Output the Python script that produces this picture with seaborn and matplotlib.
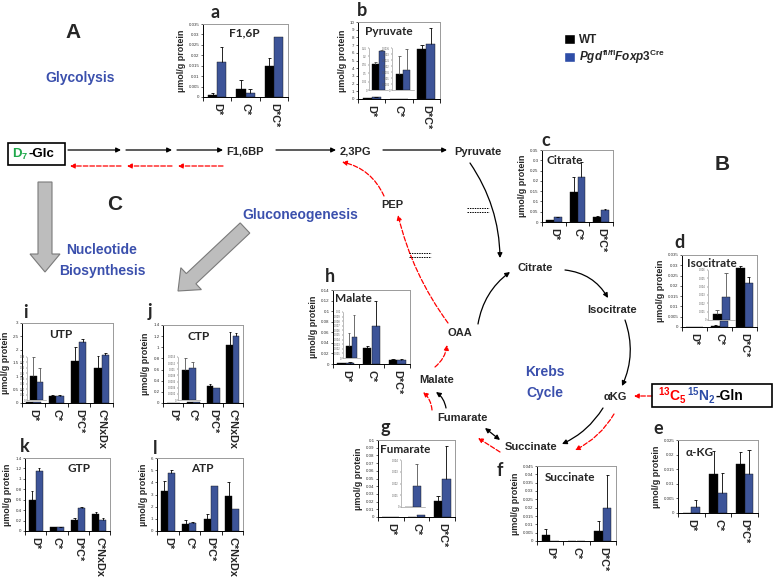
import numpy as np
import pandas as pd
import seaborn as sns
import matplotlib.pyplot as plt
from matplotlib.patches import FancyArrowPatch, FancyArrow, Rectangle, Patch
from matplotlib.ticker import FuncFormatter

W, H = 779, 581
BLUE = '#2E4DA7'
TXTBLUE = '#3B50AD'

groups3 = ['D*', 'C*', 'D*C*']
groups4 = ['D*', 'C*', 'D*C*', 'C*NxDx']

# a  F1,6P
f16p_wt = [0.001, 0.004, 0.015]
f16p_wt_err = [0.001, 0.004, 0.0035]
f16p_ko = [0.017, 0.002, 0.029]
f16p_ko_err = [0.007, 0.002, 0.0]

# b  Pyruvate (+ two insets)
pyr_wt = [0.15, 0.001, 6.5]
pyr_wt_err = [0.02, 0.001, 0.5]
pyr_ko = [0.2, 0.0015, 7.2]
pyr_ko_err = [0.03, 0.002, 2.0]
pyr_in1_wt, pyr_in1_wt_err, pyr_in1_ko, pyr_in1_ko_err = [0.155], [0.012], [0.23], [0.01]
pyr_in2_wt, pyr_in2_wt_err, pyr_in2_ko, pyr_in2_ko_err = [0.0013], [0.0015], [0.0017], [0.0017]

# c  Citrate
cit_wt = [0.008, 0.145, 0.024]
cit_wt_err = [0.003, 0.075, 0.006]
cit_ko = [0.022, 0.217, 0.06]
cit_ko_err = [0.003, 0.073, 0.004]

# d  Isocitrate (+ inset)
iso_wt = [0.0002, 0.0006, 0.0285]
iso_wt_err = [0.0, 0.0004, 0.0013]
iso_ko = [0.0001, 0.0027, 0.0213]
iso_ko_err = [0.0, 0.0, 0.0029]
iso_in_wt, iso_in_wt_err, iso_in_ko, iso_in_ko_err = [0.0007], [0.0005], [0.0028], [0.0028]

# e  alpha-KG
akg_wt = [0.0, 0.0133, 0.0167]
akg_wt_err = [0.0, 0.0078, 0.0043]
akg_ko = [0.002, 0.0068, 0.0133]
akg_ko_err = [0.0024, 0.007, 0.0083]

# f  Succinate
suc_wt = [0.0035, 0.0, 0.0063]
suc_wt_err = [0.004, 0.0, 0.006]
suc_ko = [0.0, 0.0, 0.02]
suc_ko_err = [0.0, 0.0, 0.0195]

# g  Fumarate (+ inset)
fum_wt = [0.0, 0.0, 0.021]
fum_wt_err = [0.0, 0.0, 0.006]
fum_ko = [0.0, 0.002, 0.049]
fum_ko_err = [0.0, 0.0, 0.043]
fum_in_wt, fum_in_wt_err, fum_in_ko, fum_in_ko_err = [0.0], [0.0], [0.0018], [0.0019]

# h  Malate (+ inset)
mal_wt = [0.001, 0.031, 0.008]
mal_wt_err = [0.0005, 0.004, 0.002]
mal_ko = [0.002, 0.072, 0.007]
mal_ko_err = [0.001, 0.047, 0.002]
mal_in_wt, mal_in_wt_err, mal_in_ko, mal_in_ko_err = [0.0027], [0.0027], [0.0046], [0.0047]

# i  UTP (+ inset)
utp_wt = [0.03, 0.25, 1.58, 1.3]
utp_wt_err = [0.0, 0.05, 0.52, 0.45]
utp_ko = [0.03, 0.28, 2.27, 1.79]
utp_ko_err = [0.0, 0.02, 0.12, 0.09]
utp_in_wt, utp_in_wt_err, utp_in_ko, utp_in_ko_err = [0.045], [0.035], [0.033], [0.026]

# j  CTP (+ inset)
ctp_wt = [0.005, 0.01, 0.3, 1.05]
ctp_wt_err = [0.0, 0.0, 0.04, 0.22]
ctp_ko = [0.005, 0.01, 0.27, 1.21]
ctp_ko_err = [0.0, 0.0, 0.0, 0.05]
ctp_in_wt, ctp_in_wt_err, ctp_in_ko, ctp_in_ko_err = [0.00098], [0.0004], [0.00104], [0.0002]

# k  GTP
gtp_wt = [0.6, 0.07, 0.22, 0.33]
gtp_wt_err = [0.17, 0.01, 0.02, 0.03]
gtp_ko = [1.15, 0.08, 0.45, 0.21]
gtp_ko_err = [0.05, 0.005, 0.01, 0.03]

# l  ATP
atp_wt = [3.25, 0.6, 1.0, 2.9]
atp_wt_err = [0.85, 0.3, 0.4, 1.1]
atp_ko = [4.75, 0.65, 3.7, 1.8]
atp_ko_err = [0.25, 0.05, 0.0, 0.0]

sns.set_theme(style='ticks')
plt.rcParams['font.family'] = ['Liberation Sans', 'DejaVu Sans']
plt.rcParams['mathtext.fontset'] = 'custom'
plt.rcParams['mathtext.rm'] = 'Liberation Sans:bold'
plt.rcParams['mathtext.it'] = 'Liberation Sans:bold:italic'
plt.rcParams['mathtext.bf'] = 'Liberation Sans:bold'

fig = plt.figure(figsize=(W / 100, H / 100), dpi=100)
bg = fig.add_axes([0, 0, 1, 1])
bg.set_xlim(0, W)
bg.set_ylim(H, 0)
bg.axis('off')


def rect(x0, y0, x1, y1):
    return [x0 / W, 1 - y1 / H, (x1 - x0) / W, (y1 - y0) / H]


def fmt(v, pos):
    return '{:g}'.format(round(v, 6))


def draw_bars(ax, cats, wt, ko, wt_err, ko_err, ecol='black'):
    df = pd.DataFrame({'grp': cats * 2,
                       'geno': ['WT'] * len(cats) + ['KO'] * len(cats),
                       'val': wt + ko})
    sns.barplot(data=df, x='grp', y='val', hue='geno', hue_order=['WT', 'KO'],
                palette={'WT': 'black', 'KO': BLUE}, errorbar=None, width=0.65,
                edgecolor='#111111', linewidth=0.3, legend=False, ax=ax)
    for cont, err in zip(ax.containers, [wt_err, ko_err]):
        for p, e in zip(cont, err):
            if e <= 0:
                continue
            xc = p.get_x() + p.get_width() / 2
            top = p.get_height()
            ax.vlines(xc, top, top + e, color=ecol, lw=0.6)
            ax.hlines(top + e, xc - 0.06, xc + 0.06, color=ecol, lw=0.6)


def panel(box, cats, wt, ko, wt_err, ko_err, ymax, step, title, tx, ty=0.88):
    ax = fig.add_axes(rect(*box))
    draw_bars(ax, cats, wt, ko, wt_err, ko_err)
    n = len(cats)
    ax.set_xlim(-0.5, n - 0.5)
    ax.set_ylim(0, ymax)
    ax.set_yticks(np.arange(0, ymax + step / 2, step))
    ax.yaxis.set_major_formatter(FuncFormatter(fmt))
    ax.tick_params(axis='y', labelsize=3.2, length=1.5, width=0.5, pad=1, labelcolor='#333333')
    ax.set_xticks(range(n))
    ax.set_xticklabels(cats, rotation=270, fontsize=7.8, fontweight='bold')
    ax.set_xticks(np.arange(n + 1) - 0.5, minor=True)
    ax.tick_params(axis='x', which='major', length=0, pad=4)
    ax.tick_params(axis='x', which='minor', length=3, width=0.6, color='black')
    ax.set_xlabel('')
    ax.set_ylabel('µmol/g protein', fontsize=6.5, fontweight='bold', labelpad=2)
    for s in ['left', 'bottom']:
        ax.spines[s].set_color('black')
        ax.spines[s].set_linewidth(0.7)
    for s in ['top', 'right']:
        ax.spines[s].set_visible(True)
        ax.spines[s].set_color('#9a9a9a')
        ax.spines[s].set_linewidth(0.7)
    ax.text(tx, ty, title, transform=ax.transAxes, ha='left', va='center',
            fontsize=8.5, fontweight='bold', family=['Lato', 'DejaVu Sans'])
    return ax


def inset(box, cats, wt, ko, wt_err, ko_err, ymax, step):
    ax = fig.add_axes(rect(*box))
    ax.patch.set_alpha(0)
    draw_bars(ax, cats, wt, ko, wt_err, ko_err, ecol='#555555')
    ax.set_xlim(-0.5, len(cats) - 0.5)
    ax.set_ylim(0, ymax)
    ax.set_yticks(np.arange(0, ymax + step / 2, step))
    ax.yaxis.set_major_formatter(FuncFormatter(fmt))
    ax.tick_params(axis='y', labelsize=1.8, length=1, width=0.3, pad=0.5, labelcolor='#555555')
    ax.set_xticks([])
    ax.set_xlabel('')
    ax.set_ylabel('')
    sns.despine(ax=ax)
    for s in ['left', 'bottom']:
        ax.spines[s].set_color('#888888')
        ax.spines[s].set_linewidth(0.4)
    return ax


# ---- bar panels ----
panel((203, 24, 288, 97), groups3, f16p_wt, f16p_ko, f16p_wt_err, f16p_ko_err, 0.035, 0.005, 'F1,6P', 0.3)
panel((358, 22, 440, 99), groups3, pyr_wt, pyr_ko, pyr_wt_err, pyr_ko_err, 10, 1, 'Pyruvate', 0.08)
inset((369, 48, 388, 90), ['D*'], pyr_in1_wt, pyr_in1_ko, pyr_in1_wt_err, pyr_in1_ko_err, 0.25, 0.05)
inset((392, 48, 414, 90), ['C*'], pyr_in2_wt, pyr_in2_ko, pyr_in2_wt_err, pyr_in2_ko_err, 0.0035, 0.0005)
panel((542, 150, 613, 222), groups3, cit_wt, cit_ko, cit_wt_err, cit_ko_err, 0.35, 0.05, 'Citrate', 0.06, 0.85)
panel((682, 255, 757, 327), groups3, iso_wt, iso_ko, iso_wt_err, iso_ko_err, 0.035, 0.005, 'Isocitrate', 0.07)
inset((708, 270, 735, 320), ['C*'], iso_in_wt, iso_in_ko, iso_in_wt_err, iso_in_ko_err, 0.006, 0.001)
panel((678, 440, 758, 513), groups3, akg_wt, akg_ko, akg_wt_err, akg_ko_err, 0.025, 0.005, 'α-KG', 0.1, 0.83)
panel((537, 466, 616, 541), groups3, suc_wt, suc_ko, suc_wt_err, suc_ko_err, 0.045, 0.005, 'Succinate', 0.1, 0.85)
panel((378, 440, 455, 517), groups3, fum_wt, fum_ko, fum_wt_err, fum_ko_err, 0.1, 0.01, 'Fumarate', 0.03)
inset((401, 460, 425, 507), ['C*'], fum_in_wt, fum_in_ko, fum_in_wt_err, fum_in_ko_err, 0.004, 0.001)
panel((333, 290, 410, 364), groups3, mal_wt, mal_ko, mal_wt_err, mal_ko_err, 0.14, 0.02, 'Malate', 0.03)
inset((343, 312, 360, 358), ['D*'], mal_in_wt, mal_in_ko, mal_in_wt_err, mal_in_ko_err, 0.01, 0.001)
panel((22, 323, 113, 403), groups4, utp_wt, utp_ko, utp_wt_err, utp_ko_err, 3, 0.5, 'UTP', 0.3, 0.85)
inset((27, 357, 46, 400), ['D*'], utp_in_wt, utp_in_ko, utp_in_wt_err, utp_in_ko_err, 0.08, 0.01)
panel((163, 325, 243, 403), groups4, ctp_wt, ctp_ko, ctp_wt_err, ctp_ko_err, 1.4, 0.2, 'CTP', 0.3, 0.85)
inset((178, 357, 200, 400), ['C*'], ctp_in_wt, ctp_in_ko, ctp_in_wt_err, ctp_in_ko_err, 0.0014, 0.0002)
panel((25, 458, 110, 531), groups4, gtp_wt, gtp_ko, gtp_wt_err, gtp_ko_err, 1.4, 0.2, 'GTP', 0.5, 0.85)
panel((157, 458, 243, 531), groups4, atp_wt, atp_ko, atp_wt_err, atp_ko_err, 6, 1, 'ATP', 0.4, 0.85)

# ---- letters ----
for s, x, y in [('a', 215, 12), ('b', 362, 10), ('c', 546, 140), ('d', 680, 243), ('e', 658, 428),
                ('f', 500, 470), ('g', 385, 428), ('h', 330, 277), ('i', 25, 312), ('j', 150, 312),
                ('k', 25, 446), ('l', 155, 448)]:
    bg.text(x, y, s, fontsize=13, fontweight='bold', ha='center', va='center', family=['Lato', 'DejaVu Sans'])
for s, x, y in [('A', 73, 33), ('B', 722, 165), ('C', 115, 205)]:
    bg.text(x, y, s, fontsize=15, fontweight='bold', ha='center', va='center')

# ---- blue section titles ----
for s, x, y in [('Glycolysis', 80, 78), ('Gluconeogenesis', 300, 215), ('Nucleotide', 102, 250),
                ('Biosynthesis', 102, 271), ('Krebs', 545, 372), ('Cycle', 545, 393)]:
    bg.text(x, y, s, fontsize=10, fontweight='bold', color=TXTBLUE, ha='center', va='center')

# ---- pathway labels ----
for s, x, y in [('F1,6BP', 245, 151), ('2,3PG', 355, 151), ('Pyruvate', 478, 152), ('PEP', 392, 205),
                ('Citrate', 535, 268), ('Isocitrate', 612, 310), ('αKG', 615, 397), ('Succinate', 531, 447),
                ('Fumarate', 462, 418), ('Malate', 437, 380), ('OAA', 460, 333)]:
    bg.text(x, y, s, fontsize=8, fontweight='bold', ha='center', va='center')


def arrow(p0, p1, color='black', ls='-', rad=0.0, lw=0.9, style='-|>', ms=7):
    bg.add_patch(FancyArrowPatch(p0, p1, arrowstyle=style, mutation_scale=ms, color=color, lw=lw,
                                 linestyle=ls, connectionstyle='arc3,rad=%s' % rad, shrinkA=0, shrinkB=0))


# glycolysis row
for x0, x1 in [(68, 121), (126, 172), (177, 223), (276, 336), (383, 447)]:
    arrow((x0, 150), (x1, 150))
for x0, x1 in [(121, 70), (172, 127), (223, 178)]:
    arrow((x0, 166), (x1, 166), color='red', ls='--')
arrow((384, 196), (342, 162), color='red', ls='--', rad=0.25)
arrow((470, 163), (500, 258), rad=-0.15)
arrow((448, 323), (398, 215), color='red', ls='--', rad=-0.1)
for cx, cy in [(478, 210), (420, 255)]:
    bg.plot([cx - 11, cx + 11], [cy - 2, cy - 2], color='black', lw=0.7, ls=(0, (1.5, 1)))
    bg.plot([cx - 11, cx + 11], [cy + 2, cy + 2], color='black', lw=0.7, ls=(0, (1.5, 1)))

# Krebs cycle
arrow((565, 270), (608, 298), rad=-0.25)
arrow((625, 320), (622, 386), rad=-0.2)
arrow((603, 408), (562, 444), rad=-0.15)
arrow((614, 414), (575, 450), color='red', ls='--', rad=-0.15)
arrow((485, 428), (500, 440), style='<|-|>', rad=0)
arrow((500, 452), (478, 438), color='red', ls='--')
arrow((446, 408), (436, 392), rad=0.2)
arrow((432, 410), (423, 392), color='red', ls='--', rad=0.2)
arrow((435, 367), (447, 345), color='red', ls='--', rad=0.2)
arrow((478, 324), (510, 272), rad=-0.2)
arrow((652, 396), (634, 396), color='red', ls='--')

# gray block arrows
bg.add_patch(FancyArrow(45, 182, 0, 90, width=14, head_width=30, head_length=18, length_includes_head=True,
                        fc='#BDBDBD', ec='#7a7a7a', lw=0.8))
bg.add_patch(FancyArrow(245, 228, -67, 63, width=14, head_width=30, head_length=18, length_includes_head=True,
                        fc='#BDBDBD', ec='#7a7a7a', lw=0.8))

# boxed substrates
renderer = fig.canvas.get_renderer()


def chain(x, y, pieces, size):
    for s, c in pieces:
        t = bg.text(x, y, s, color=c, fontsize=size, fontweight='bold', ha='left', va='center')
        x += t.get_window_extent(renderer=renderer).width


bg.add_patch(Rectangle((8, 143), 57, 22, fill=False, ec='black', lw=1.2))
chain(12, 154, [(r'$\mathrm{D_7}$', '#1FA84A'), ('-Glc', 'black')], 9.5)
bg.add_patch(Rectangle((652, 384), 120, 23, fill=False, ec='black', lw=1.2))
chain(658, 396, [(r'$\mathrm{^{13}C_5}$', 'red'), (r'$\mathrm{^{15}N_2}$', '#2E4DA7'), ('-Gln', 'black')], 10)

# legend
fig.legend(handles=[Patch(fc='black'), Patch(fc=BLUE)],
           labels=['WT', r'$\mathit{Pgd}^{\mathrm{fl/fl}}\mathit{Foxp3}^{\mathrm{Cre}}$'],
           loc='upper left', bbox_to_anchor=(558 / W, 1 - 28 / H), frameon=False,
           prop={'weight': 'bold', 'size': 8.5}, handlelength=0.9, handleheight=0.9,
           handletextpad=0.4, labelspacing=0.2, borderpad=0)

fig.savefig('out.png', dpi=100)
